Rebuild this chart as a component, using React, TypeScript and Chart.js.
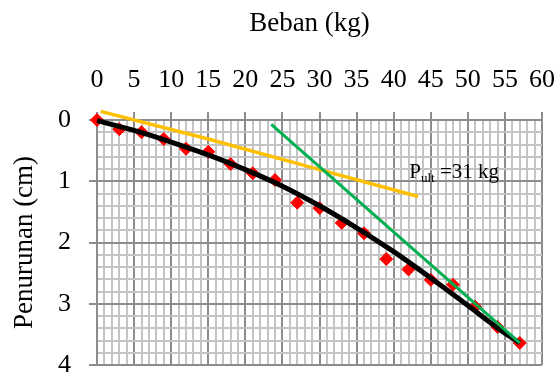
import React, { useEffect, useRef } from 'react';
import { Chart, registerables } from 'chart.js';

Chart.register(...registerables);

// Observed load-settlement points (red diamonds)
const loads = [0, 3, 6, 9, 12, 15, 18, 21, 24, 27, 30, 33, 36, 39, 42, 45, 48, 51, 54, 57];
const settlements = [0, 0.15, 0.2, 0.31, 0.47, 0.52, 0.72, 0.87, 0.98, 1.35, 1.44, 1.68, 1.85, 2.27, 2.44, 2.61, 2.69, 3.05, 3.38, 3.64];

// Black trend curve
const trendLoads = [0, 5, 10, 15, 20, 25, 30, 35, 40, 45, 50, 55, 57];
const trendSettle = [0.01, 0.17, 0.36, 0.57, 0.81, 1.08, 1.4, 1.76, 2.15, 2.58, 3.03, 3.48, 3.64];

// Orange initial tangent
const tanALoads = [0.5, 15, 29.4, 43.3];
const tanASettle = [-0.14, 0.31, 0.79, 1.25];

// Green final tangent
const tanBLoads = [23.5, 57];
const tanBSettle = [0.07, 3.64];

// Annotation
const annotationPos = { x: 42.1, y: 0.95 };
const annotationMain = 'P';
const annotationSub = 'ult';
const annotationRest = ' =31 kg';

const xMin = 0, xMax = 60, xMajor = 5;
const yMin = 0, yMax = 4;

const xTitle = 'Beban (kg)';
const yTitle = 'Penurunan (cm)';

const SERIF = '"Liberation Serif", "Times New Roman", serif';
const MAJOR = '#8c8c8c';
const MINOR = '#c4c4c4';

const toPts = (xs: number[], ys: number[]) => xs.map((x, i) => ({ x, y: ys[i] }));

const isInt = (v: number) => Math.abs(v - Math.round(v)) < 1e-6;
const isMajorX = (v: number) => isInt(v / xMajor);

export default function App() {
  const ref = useRef<HTMLCanvasElement | null>(null);

  useEffect(() => {
    if (!ref.current) return;

    const textPlugin = {
      id: 'customText',
      afterDatasetsDraw(chart: any) {
        const { ctx, scales, chartArea } = chart;
        ctx.save();
        // x-axis title (sits slightly left of the plot centre in the reference)
        ctx.fillStyle = '#000';
        ctx.font = `27px ${SERIF}`;
        ctx.textAlign = 'center';
        ctx.textBaseline = 'middle';
        ctx.fillText(xTitle, (chartArea.left + chartArea.right) / 2 - 10, 24);

        // P_ult annotation
        const px = scales.x.getPixelForValue(annotationPos.x);
        const py = scales.y.getPixelForValue(annotationPos.y);
        ctx.textBaseline = 'alphabetic';
        ctx.textAlign = 'left';
        ctx.font = `21px ${SERIF}`;
        ctx.fillText(annotationMain, px, py);
        let cx = px + ctx.measureText(annotationMain).width;
        ctx.font = `13px ${SERIF}`;
        ctx.fillText(annotationSub, cx, py + 4);
        cx += ctx.measureText(annotationSub).width;
        ctx.font = `21px ${SERIF}`;
        ctx.fillText(annotationRest, cx, py);
        ctx.restore();
      },
    };

    const chart = new Chart(ref.current, {
      type: 'scatter',
      data: {
        datasets: [
          {
            label: 'tangent2',
            data: toPts(tanBLoads, tanBSettle),
            showLine: true,
            borderColor: '#00b050',
            borderWidth: 3,
            pointRadius: 0,
            order: 1,
            clip: false,
          },
          {
            label: 'tangent1',
            data: toPts(tanALoads, tanASettle),
            showLine: true,
            borderColor: '#ffc000',
            borderWidth: 3.5,
            pointRadius: 0,
            order: 2,
            clip: false,
          },
          {
            label: 'trend',
            data: toPts(trendLoads, trendSettle),
            showLine: true,
            borderColor: '#000000',
            borderWidth: 5,
            pointRadius: 0,
            cubicInterpolationMode: 'monotone',
            order: 3,
            clip: false,
          },
          {
            label: 'data',
            data: toPts(loads, settlements),
            showLine: false,
            pointStyle: 'rectRot',
            pointRadius: 6.5,
            pointBackgroundColor: '#ff0000',
            pointBorderColor: '#ff0000',
            pointBorderWidth: 1,
            order: 4,
            clip: false,
          },
        ],
      } as any,
      options: {
        animation: false,
        responsive: false,
        maintainAspectRatio: false,
        layout: { padding: { left: 0, top: 0, right: 16, bottom: 10 } },
        plugins: { legend: { display: false }, tooltip: { enabled: false } },
        scales: {
          x: {
            type: 'linear',
            position: 'top',
            min: xMin,
            max: xMax,
            afterFit: (s: any) => {
              s.height = 120;
              s.paddingLeft = 0;
              s.paddingRight = 0;
            },
            ticks: {
              stepSize: 1,
              autoSkip: false,
              maxRotation: 0,
              minRotation: 0,
              padding: 16,
              color: '#000',
              font: { family: SERIF, size: 26 },
              callback: (v: any) => (isMajorX(Number(v)) ? String(Math.round(Number(v))) : ''),
            },
            grid: {
              color: (c: any) => (c.tick && isMajorX(c.tick.value) ? MAJOR : MINOR),
              lineWidth: 2,
              tickLength: 8,
              tickColor: (c: any) => (c.tick && isMajorX(c.tick.value) ? MAJOR : 'rgba(0,0,0,0)'),
              tickWidth: 2,
            },
            border: { display: true, color: MAJOR, width: 2 },
            title: { display: false },
          },
          y: {
            type: 'linear',
            position: 'left',
            reverse: true,
            min: yMin,
            max: yMax,
            afterFit: (s: any) => {
              s.width = 97;
              s.paddingTop = 0;
              s.paddingBottom = 0;
            },
            ticks: {
              stepSize: 0.2,
              autoSkip: false,
              padding: 18,
              color: '#000',
              font: { family: SERIF, size: 26 },
              callback: (v: any) => (isInt(Number(v)) ? String(Math.round(Number(v))) : ''),
            },
            grid: {
              color: (c: any) => (c.tick && isInt(c.tick.value) ? MAJOR : MINOR),
              lineWidth: 2,
              tickLength: 8,
              tickColor: (c: any) => (c.tick && isInt(c.tick.value) ? MAJOR : 'rgba(0,0,0,0)'),
              tickWidth: 2,
            },
            border: { display: true, color: MAJOR, width: 2 },
            title: {
              display: true,
              text: yTitle,
              color: '#000',
              font: { family: SERIF, size: 27 },
              padding: { top: 9, bottom: 0 },
            },
          },
        },
      } as any,
      plugins: [textPlugin],
    });

    return () => chart.destroy();
  }, []);

  return (
    <div style={{ position: 'absolute', left: 0, top: 0, width: 558, height: 375, background: '#fff' }}>
      <canvas ref={ref} width={558} height={375} style={{ width: 558, height: 375, display: 'block' }} />
    </div>
  );
}
